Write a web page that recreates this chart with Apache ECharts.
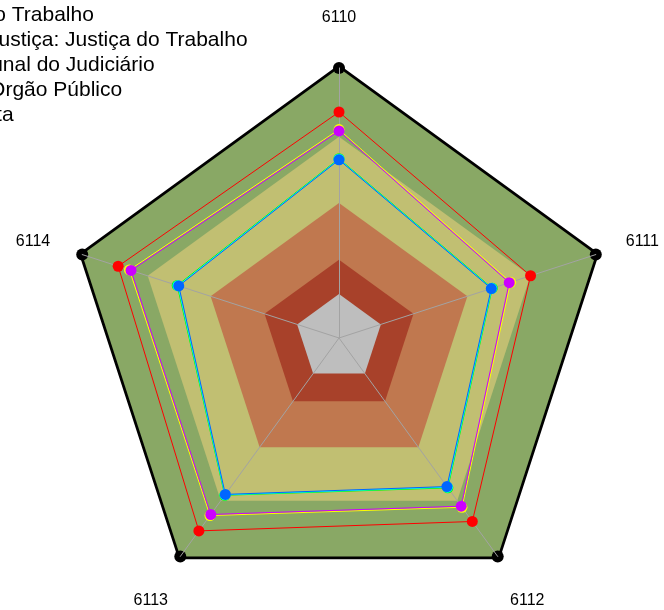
<!DOCTYPE html>
<html>
<head>
<meta charset="utf-8">
<script src="https://cdn.jsdelivr.net/npm/echarts@6/dist/echarts.min.js"></script>
<style>
html,body{margin:0;padding:0;background:#fff;}
#chart{width:664px;height:610px;}
</style>
</head>
<body>
<div id="chart"></div>
<script>
// Indicators (clockwise from top)
const categories = ['6110', '6111', '6112', '6113', '6114'];

// Series values (fraction of max = 1), in category order
const seriesNames = [
  'Tribunal Regional do Trabalho da 2ª Região',
  'Segmento: Justiça do Trabalho',
  'Ramo de Justiça: Justiça do Trabalho',
  'Tipo: Tribunal do Judiciário',
  'Tipo de Orgão Público',
  'Administração Pública Direta'
];
const redValues    = [0.837, 0.746, 0.840, 0.883, 0.860];
const yellowValues = [0.772, 0.668, 0.775, 0.813, 0.816];
const greenValues  = [0.664, 0.597, 0.686, 0.720, 0.630];
const cyanValues   = [0.662, 0.595, 0.683, 0.718, 0.627];
const blueValues   = [0.660, 0.593, 0.680, 0.716, 0.624];
const purpleValues = [0.767, 0.663, 0.770, 0.808, 0.810];

// Background bands (outer to inner)
const bandLevels = [1.0, 0.745, 0.5, 0.29, 0.163];
const bandColors = ['#89A865', '#C1BF72', '#C0784F', '#A8412A', '#BEBEBE'];

// Legend visible anchors: text substring that starts at given x
const legendAnchors = [
  null,
  ['Trabalho', 12],
  ['Justiça do Trabalho', 65],
  ['Judiciário', 66],
  ['Público', 53],
  ['ta', -4]
];

const seriesValues = [redValues, yellowValues, greenValues, cyanValues, blueValues, purpleValues];
const seriesColors = ['#FF0000', '#FFFF00', '#00FF00', '#00FFFF', '#0066FF', '#CC00FF'];

// ECharts lays indicators counter-clockwise; reorder to get clockwise layout
const order = [0, 4, 3, 2, 1];
const reorder = arr => order.map(i => arr[i]);

const FONT = 'Liberation Sans, Arial, sans-serif';
const LEG_FS = 21;
const ctx = document.createElement('canvas').getContext('2d');
ctx.font = LEG_FS + 'px "Liberation Sans", Arial, sans-serif';

const ITEM_W = 14;
const legends = [];
legendAnchors.forEach((a, i) => {
  if (!a) return;
  const name = seriesNames[i];
  const idx = name.lastIndexOf(a[0]);
  const prefixW = ctx.measureText(name.slice(0, idx)).width;
  legends.push({
    data: [name],
    left: Math.round(a[1] - prefixW - ITEM_W - 5),
    top: 15.5 + (i - 1) * 25 - LEG_FS / 2,
    padding: 0,
    itemWidth: ITEM_W,
    itemHeight: 14,
    icon: 'circle',
    selectedMode: false,
    textStyle: { fontSize: LEG_FS, color: '#000', fontFamily: FONT }
  });
});

const series = [];
bandLevels.forEach((lvl, i) => {
  const outer = i === 0;
  series.push({
    type: 'radar',
    z: 1,
    silent: true,
    symbol: outer ? 'circle' : 'none',
    symbolSize: 12,
    itemStyle: { color: '#000' },
    lineStyle: outer ? { color: '#000', width: 5.5 } : { width: 0, opacity: 0 },
    areaStyle: { color: bandColors[i], opacity: 1 },
    data: [{ value: reorder(categories.map(() => lvl)), name: 'band' + i }]
  });
});
seriesValues.forEach((vals, i) => {
  series.push({
    type: 'radar',
    name: seriesNames[i],
    z: 3,
    symbol: 'circle',
    symbolSize: 11,
    itemStyle: { color: seriesColors[i] },
    lineStyle: { color: seriesColors[i], width: 1 },
    data: [{ value: reorder(vals), name: seriesNames[i] }]
  });
});

// label placement styles per axis position (clockwise from top)
const labelKeys = ['t', 'r', 'br', 'bl', 'l'];
const labelKeyOf = {};
categories.forEach((c, i) => { labelKeyOf[c] = labelKeys[i]; });
const base = { color: '#000', fontSize: 16, fontFamily: FONT };

const chart = echarts.init(document.getElementById('chart'), null, { renderer: 'canvas' });
chart.setOption({
  animation: false,
  backgroundColor: '#fff',
  legend: legends,
  radar: {
    z: 2,
    center: [339, 338],
    radius: 270,
    startAngle: 90,
    shape: 'polygon',
    splitNumber: 1,
    indicator: reorder(categories).map(c => ({ name: c, min: 0, max: 1 })),
    nameGap: 21,
    axisName: {
      color: '#000', fontSize: 16, fontFamily: FONT,
      formatter: (name) => '{' + labelKeyOf[name] + '|' + name + '}',
      rich: {
        t: Object.assign({ padding: [0, 0, 21, 0] }, base),
        r: Object.assign({ padding: [0, 0, 12, 10] }, base),
        l: Object.assign({ padding: [0, 12, 12, 0] }, base),
        br: Object.assign({ padding: [54, 0, 0, 0] }, base),
        bl: Object.assign({ padding: [54, 0, 0, 0] }, base)
      }
    },
    axisLine: { lineStyle: { color: '#A3A3A3', width: 1 } },
    splitLine: { show: false },
    splitArea: { show: false },
    axisTick: { show: false },
    axisLabel: { show: false }
  },
  series: series
});
</script>
</body>
</html>
